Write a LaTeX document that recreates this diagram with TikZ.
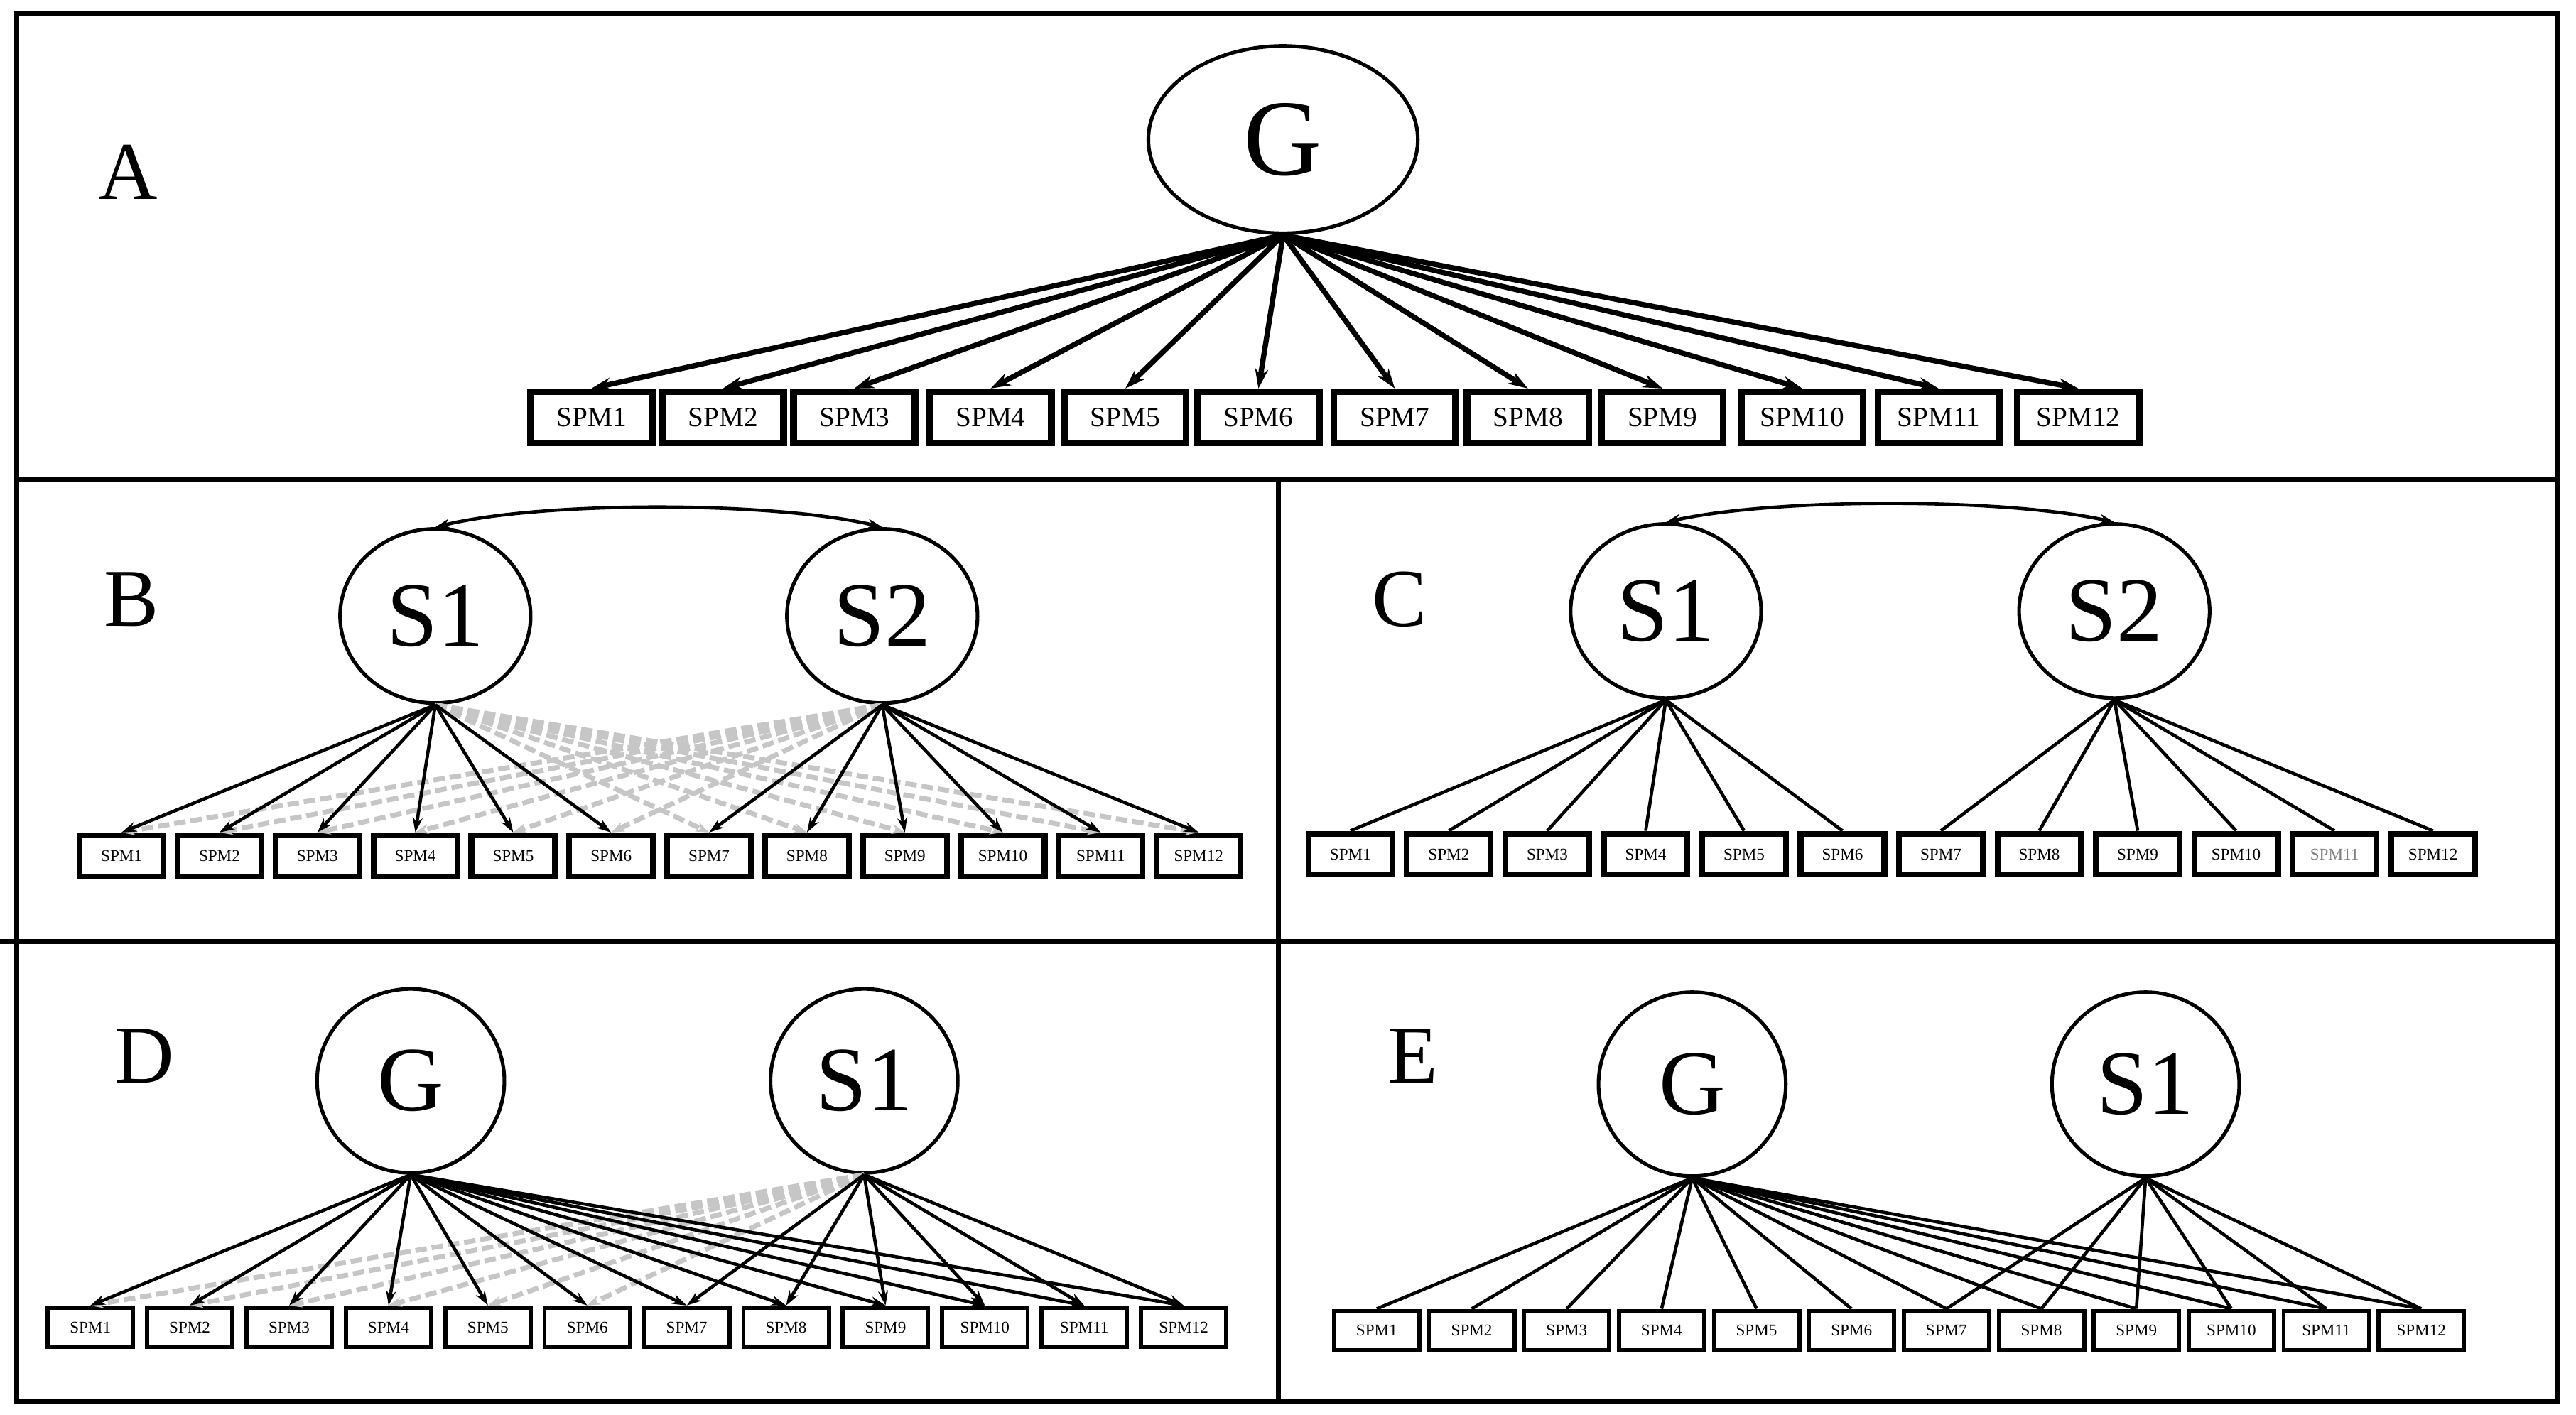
\documentclass[tikz,border=0pt]{standalone}
\usepackage{fontspec}
\setmainfont{Liberation Serif}
\usetikzlibrary{arrows.meta,shapes.geometric}
\begin{document}
\begin{tikzpicture}[x=1pt,y=-1pt,
  frame/.style={line width=3pt},
  lat/.style={draw,ellipse,line width=2.2pt,inner sep=0pt},
  lbl/.style={font=\fontsize{50}{50}\selectfont},
  boxA/.style={draw,line width=4pt,minimum width=74pt,minimum height=31pt,inner sep=0pt,font=\fontsize{17}{17}\selectfont},
  boxS/.style={draw,line width=3.5pt,minimum width=51pt,minimum height=25pt,inner sep=0pt,font=\fontsize{10}{10}\selectfont},
  boxT/.style={draw,line width=2.5pt,minimum width=52pt,minimum height=24pt,inner sep=0pt,font=\fontsize{10}{10}\selectfont},
  ar/.style={-{Stealth[length=12pt,width=8pt]},line width=3.2pt},
  ars/.style={-{Stealth[length=9pt,width=6pt]},line width=2pt},
  ln/.style={line width=2pt},
  dsh/.style={gray!45,line width=3pt,dash pattern=on 7pt off 3pt,-{Stealth[length=8pt,width=6pt]}}
]
\useasboundingbox (0,0) rectangle (1568,861);
\fill[white] (0,0) rectangle (1568,861);
% frames
\draw[frame] (10,8) rectangle (1557,853);
\draw[frame] (10,292) -- (1557,292);
\draw[frame] (0,573) -- (1557,573);
\draw[frame] (778,292) -- (778,853);
% ---------- A
\node[lbl] (labA) at (78,105) {A};
\node[lat,minimum width=164pt,minimum height=114pt,font=\fontsize{66}{66}\selectfont] (AG) at (781,85) {G};
\foreach \i/\x in {1/360,2/440,3/520,4/603,5/685,6/766,7/849,8/930,9/1012,10/1097,11/1180,12/1265}{
  \node[boxA] (A\i) at (\x,254) {SPM\i};
  \draw[ar] (AG.south) -- (A\i.north);
}
% ---------- B
\node[lbl] (labB) at (80,365) {B};
\node[lat,minimum width=116pt,minimum height=106pt,font=\fontsize{56}{56}\selectfont] (BS1) at (265,375) {S1};
\node[lat,minimum width=116pt,minimum height=106pt,font=\fontsize{56}{56}\selectfont] (BS2) at (537,375) {S2};
\draw[{Stealth[length=9pt,width=6pt]}-{Stealth[length=9pt,width=6pt]},line width=2pt] (BS1.north) .. controls (330,305) and (470,305) .. (BS2.north);
\foreach \i in {1,...,12}{
  \node[boxS] (B\i) at ({74+59.6*(\i-1)},521) {SPM\i};
}
\foreach \i in {1,...,6}{\draw[dsh] (BS2.south) -- (B\i.north);}
\foreach \i in {7,...,12}{\draw[dsh] (BS1.south) -- (B\i.north);}
\foreach \i in {1,...,6}{\draw[ars] (BS1.south) -- (B\i.north);}
\foreach \i in {7,...,12}{\draw[ars] (BS2.south) -- (B\i.north);}
% ---------- C
\node[lbl] (labC) at (852,365) {C};
\node[lat,minimum width=116pt,minimum height=106pt,font=\fontsize{56}{56}\selectfont] (CS1) at (1014,372) {S1};
\node[lat,minimum width=116pt,minimum height=106pt,font=\fontsize{56}{56}\selectfont] (CS2) at (1287,372) {S2};
\draw[{Stealth[length=9pt,width=6pt]}-{Stealth[length=9pt,width=6pt]},line width=2pt] (CS1.north) .. controls (1080,303) and (1220,303) .. (CS2.north);
\foreach \i in {1,...,12}{
  \ifnum\i=11
    \node[boxS,text=gray] (C\i) at ({822+59.9*(\i-1)},520) {SPM\i};
  \else
    \node[boxS] (C\i) at ({822+59.9*(\i-1)},520) {SPM\i};
  \fi
}
\foreach \i in {1,...,6}{\draw[ln] (CS1.south) -- (C\i.north);}
\foreach \i in {7,...,12}{\draw[ln] (CS2.south) -- (C\i.north);}
% ---------- D
\node[lbl] (labD) at (88,643) {D};
\node[lat,minimum width=114pt,minimum height=112pt,font=\fontsize{56}{56}\selectfont] (DG) at (250,658) {G};
\node[lat,minimum width=114pt,minimum height=112pt,font=\fontsize{56}{56}\selectfont] (DS1) at (526,658) {S1};
\foreach \i in {1,...,12}{
  \node[boxT] (D\i) at ({55+60.5*(\i-1)},808) {SPM\i};
}
\foreach \i in {1,...,6}{\draw[dsh] (DS1.south) -- (D\i.north);}
\foreach \i in {1,...,12}{\draw[ars] (DG.south) -- (D\i.north);}
\foreach \i in {7,...,12}{\draw[ars] (DS1.south) -- (D\i.north);}
% ---------- E
\node[lbl] (labE) at (860,643) {E};
\node[lat,minimum width=114pt,minimum height=112pt,font=\fontsize{56}{56}\selectfont] (EG) at (1030,660) {G};
\node[lat,minimum width=114pt,minimum height=112pt,font=\fontsize{56}{56}\selectfont] (ES1) at (1306,660) {S1};
\foreach \i in {1,...,12}{
  \node[boxT] (E\i) at ({838+57.8*(\i-1)},810) {SPM\i};
}
\foreach \i in {1,...,12}{\draw[ln] (EG.south) -- (E\i.north);}
\foreach \i in {7,...,12}{\draw[ln] (ES1.south) -- (E\i.north);}
\end{tikzpicture}
\end{document}
